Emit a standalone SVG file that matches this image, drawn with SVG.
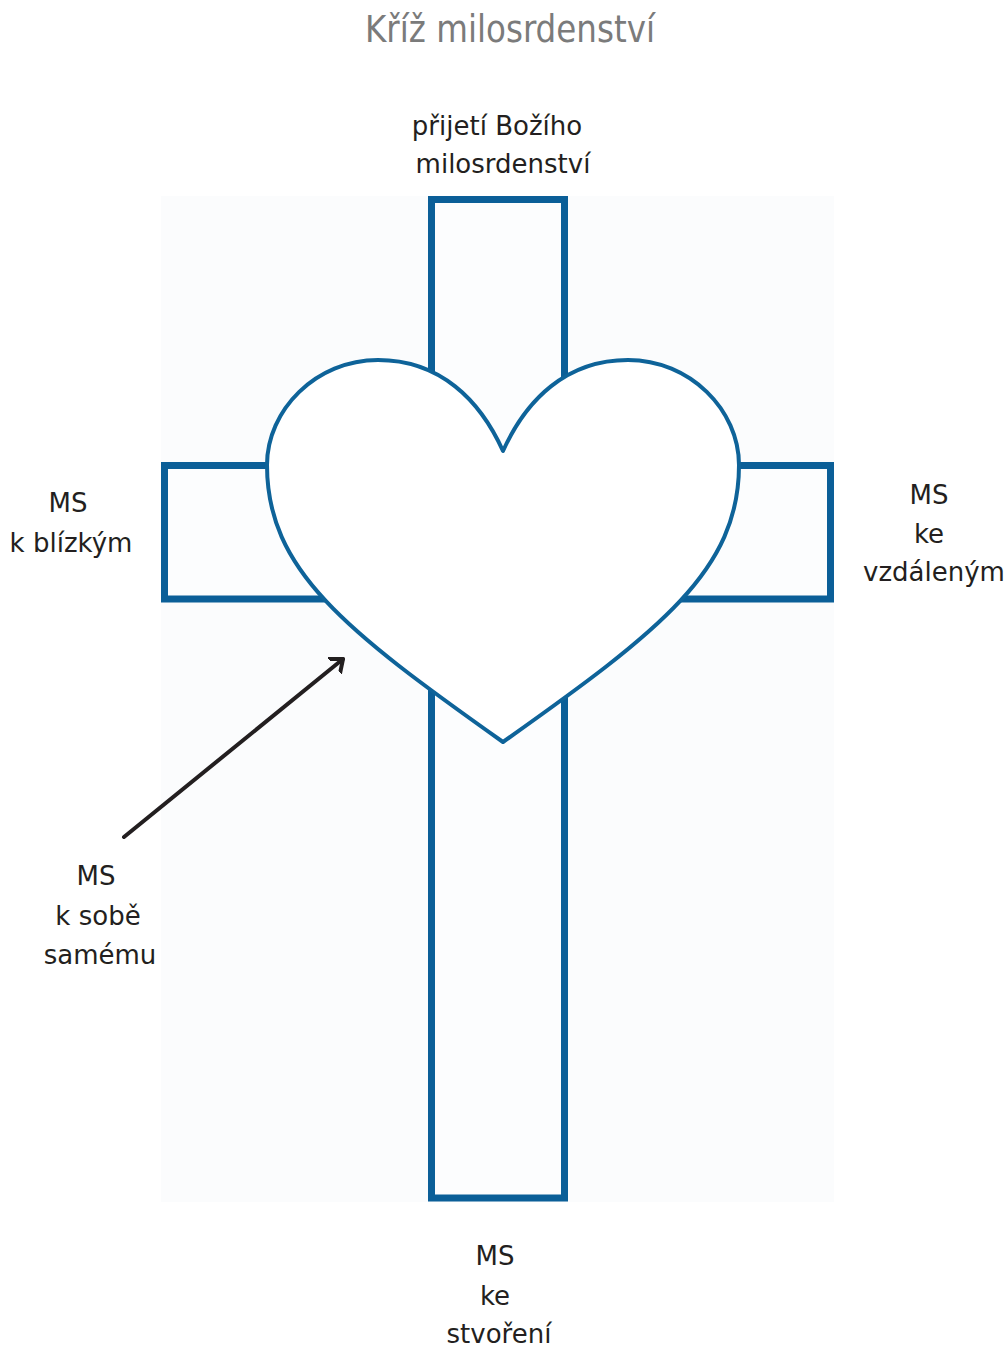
<svg xmlns="http://www.w3.org/2000/svg" width="1007" height="1350" viewBox="0 0 1007 1350">
  <defs>
    <style>
      .lbl { font-family: "DejaVu Sans", "Liberation Sans", sans-serif; font-size: 26px; fill: #231f20; text-anchor: middle; }
      .title { font-family: "DejaVu Sans Condensed", "DejaVu Sans", sans-serif; font-size: 37px; fill: #7b7b7b; text-anchor: middle; }
      .bar { fill: #fcfdfe; stroke: #0b5f98; stroke-width: 7; }
      .heart { fill: #ffffff; stroke: #0e6399; stroke-width: 4; stroke-linejoin: round; }
      .arrow { fill: none; stroke: #231f20; stroke-width: 4; stroke-linecap: round; stroke-linejoin: round; }
    </style>
    <marker id="head" viewBox="0 0 22 22" refX="11" refY="11" markerWidth="22" markerHeight="22" markerUnits="userSpaceOnUse" orient="auto">
      <path d="M 0 2 L 11 11 L 0 20" fill="none" stroke="#231f20" stroke-width="4" stroke-linecap="round" stroke-linejoin="round"/>
    </marker>
  </defs>
  <rect x="0" y="0" width="1007" height="1350" fill="#ffffff"/>
  <text class="title" x="510" y="42" textLength="290" lengthAdjust="spacingAndGlyphs">Kříž milosrdenství</text>
  <g id="background">
    <rect x="161" y="196" width="673" height="1006" fill="#fbfcfd"/>
  </g>
  <g id="cross">
    <rect class="bar" x="431.5" y="199.5" width="133" height="998.5"/>
    <rect class="bar" x="164.5" y="465.5" width="666" height="133.5"/>
  </g>
  <g id="heart">
    <path class="heart" d="M 503 451 C 480 400, 440 360, 378 360 C 316 360, 267 410, 267 465 C 267 570, 345 630, 503 742 C 661 630, 739 570, 739 465 C 739 410, 690 360, 628 360 C 566 360, 526 400, 503 451 Z"/>
  </g>
  <g id="connectors">
    <line class="arrow" x1="124" y1="837" x2="343" y2="659" marker-end="url(#head)"/>
  </g>
  <g id="label-top">
    <text class="lbl" x="497" y="135">přijetí Božího</text>
    <text class="lbl" x="503" y="173">milosrdenství</text>
  </g>
  <g id="label-left">
    <text class="lbl" x="68" y="512">MS</text>
    <text class="lbl" x="71" y="552">k blízkým</text>
  </g>
  <g id="label-right">
    <text class="lbl" x="929" y="504">MS</text>
    <text class="lbl" x="929" y="543">ke</text>
    <text class="lbl" x="934" y="581">vzdáleným</text>
  </g>
  <g id="label-self">
    <text class="lbl" x="96" y="885">MS</text>
    <text class="lbl" x="98" y="925">k sobě</text>
    <text class="lbl" x="100" y="964">samému</text>
  </g>
  <g id="label-bottom">
    <text class="lbl" x="495" y="1265">MS</text>
    <text class="lbl" x="495" y="1305">ke</text>
    <text class="lbl" x="499" y="1343">stvoření</text>
  </g>
</svg>
